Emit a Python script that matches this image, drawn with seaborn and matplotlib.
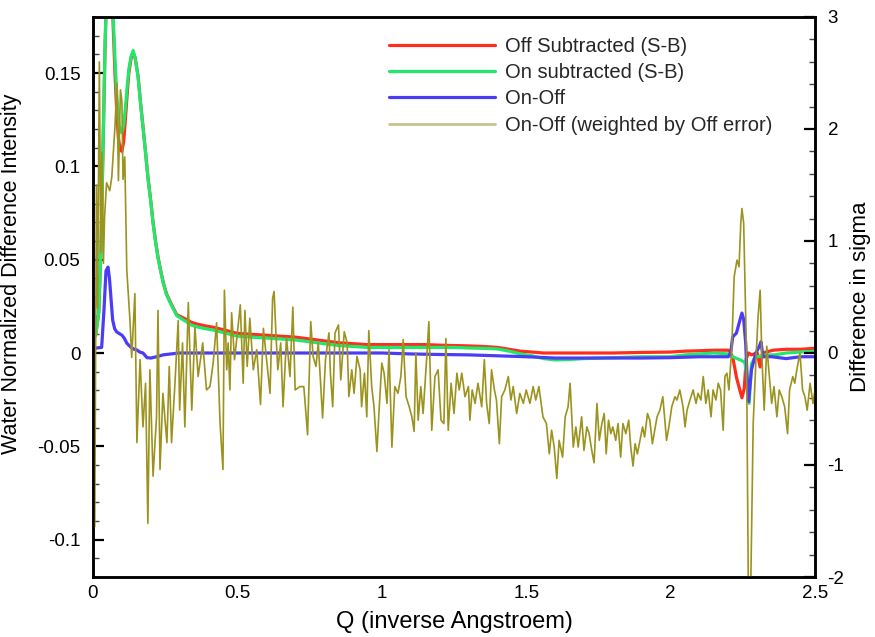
import matplotlib
matplotlib.use("Agg")
import matplotlib.pyplot as plt
from matplotlib.ticker import MultipleLocator
from matplotlib.lines import Line2D
import seaborn as sns
import pandas as pd

# ---------------- data ----------------
q_red = [0.0, 0.01, 0.02, 0.028, 0.036, 0.042, 0.05, 0.06, 0.07, 0.076, 0.082, 0.088, 0.094, 0.1, 0.106,
         0.112, 0.118, 0.124, 0.132, 0.139, 0.146, 0.156, 0.165, 0.173, 0.182, 0.19, 0.2, 0.208, 0.217,
         0.225, 0.234, 0.243, 0.255, 0.267, 0.28, 0.29, 0.31, 0.325, 0.34, 0.36, 0.39, 0.416, 0.45, 0.5,
         0.55, 0.6, 0.65, 0.7, 0.75, 0.8, 0.85, 0.9, 0.95, 1.0, 1.05, 1.1, 1.15, 1.2, 1.25, 1.3, 1.35,
         1.4, 1.44, 1.48, 1.52, 1.56, 1.6, 1.7, 1.8, 1.9, 2.0, 2.05, 2.1, 2.15, 2.2, 2.215, 2.228, 2.24,
         2.247, 2.255, 2.262, 2.27, 2.28, 2.3, 2.31, 2.318, 2.355, 2.4, 2.45, 2.5]
off_sub = [0.007, 0.010, 0.022, 0.059, 0.12, 0.166, 0.21, 0.22, 0.175, 0.15, 0.13, 0.115, 0.109, 0.108,
           0.113, 0.125, 0.138, 0.150, 0.158, 0.161, 0.158, 0.1485, 0.1335, 0.1215, 0.1075, 0.0945,
           0.0815, 0.070, 0.0595, 0.0515, 0.0445, 0.038, 0.0315, 0.0275, 0.0235, 0.0205, 0.019, 0.0178,
           0.0165, 0.0155, 0.0145, 0.0138, 0.0125, 0.0105, 0.010, 0.0095, 0.009, 0.0085, 0.0075, 0.0065,
           0.0055, 0.005, 0.0045, 0.0045, 0.0045, 0.0045, 0.0045, 0.0042, 0.004, 0.0038, 0.0035, 0.003,
           0.002, 0.001, 0.0005, 0.0, 0.0, 0.0, 0.0, 0.0003, 0.0005, 0.001, 0.0012, 0.0015, 0.0015,
           -0.002, -0.013, -0.020, -0.024, -0.019, -0.003, 0.0, -0.001, 0.0, -0.0075, 0.0, 0.0015,
           0.002, 0.002, 0.0025]

q_green = [0.0, 0.01, 0.02, 0.028, 0.036, 0.042, 0.05, 0.06, 0.07, 0.076, 0.082, 0.088, 0.094, 0.1, 0.106,
           0.112, 0.118, 0.124, 0.132, 0.139, 0.146, 0.156, 0.165, 0.173, 0.182, 0.19, 0.2, 0.208, 0.217,
           0.225, 0.234, 0.243, 0.255, 0.267, 0.28, 0.29, 0.31, 0.325, 0.34, 0.36, 0.39, 0.416, 0.45, 0.5,
           0.55, 0.6, 0.65, 0.7, 0.75, 0.8, 0.85, 0.9, 0.95, 1.0, 1.05, 1.1, 1.15, 1.2, 1.25, 1.3, 1.35,
           1.4, 1.44, 1.48, 1.52, 1.56, 1.6, 1.65, 1.7, 1.8, 1.9, 2.0, 2.05, 2.1, 2.15, 2.2, 2.215, 2.23,
           2.245, 2.257, 2.265, 2.272, 2.28, 2.29, 2.3, 2.33, 2.36, 2.4, 2.45, 2.5]
on_sub = [0.007, 0.010, 0.022, 0.059, 0.12, 0.166, 0.21, 0.23, 0.18, 0.158, 0.139, 0.125, 0.119, 0.118,
          0.122, 0.131, 0.142, 0.152, 0.159, 0.162, 0.158, 0.148, 0.133, 0.121, 0.107, 0.094, 0.081,
          0.0695, 0.059, 0.051, 0.044, 0.0375, 0.031, 0.027, 0.023, 0.020, 0.018, 0.0166, 0.015, 0.014,
          0.013, 0.0123, 0.011, 0.009, 0.0085, 0.008, 0.0075, 0.007, 0.006, 0.005, 0.004, 0.0035, 0.003,
          0.003, 0.003, 0.003, 0.003, 0.003, 0.003, 0.0027, 0.0025, 0.0022, 0.001, -0.0005, -0.0015,
          -0.003, -0.0037, -0.0035, -0.003, -0.0025, -0.002, -0.002, -0.001, -0.0005, 0.0, -0.0005,
          -0.002, -0.003, -0.004, -0.005, -0.013, -0.027, -0.006, -0.003, -0.002, -0.001, -0.001, 0.0,
          0.0005, 0.001]

q_blue = [0.0, 0.013, 0.03, 0.038, 0.045, 0.052, 0.057, 0.061, 0.068, 0.075, 0.082, 0.09, 0.1, 0.108,
          0.117, 0.125, 0.134, 0.143, 0.152, 0.162, 0.173, 0.187, 0.2, 0.22, 0.243, 0.27, 0.3, 0.35, 0.4,
          0.5, 0.6, 0.7, 0.8, 0.9, 1.0, 1.1, 1.2, 1.3, 1.4, 1.5, 1.6, 1.7, 1.8, 1.9, 2.0, 2.1, 2.2, 2.208,
          2.215, 2.228, 2.24, 2.247, 2.253, 2.26, 2.265, 2.27, 2.28, 2.295, 2.307, 2.313, 2.32, 2.35, 2.4,
          2.45, 2.5]
on_off = [0.002, 0.0027, 0.003, 0.023, 0.044, 0.046, 0.040, 0.032, 0.0177, 0.013, 0.0113, 0.0105, 0.0096,
          0.008, 0.0053, 0.004, 0.0027, 0.002, 0.0016, 0.0005, 0.0, -0.0025, -0.0027, -0.002, -0.001,
          -0.0005, 0.0, 0.0, 0.0, 0.0, 0.0, 0.0, 0.0, 0.0, 0.0, -0.0005, -0.0008, -0.001, -0.0015, -0.002,
          -0.0027, -0.0027, -0.0027, -0.0027, -0.0025, -0.002, -0.002, 0.0, 0.0086, 0.0107, 0.0176,
          0.0214, 0.018, 0.0053, -0.0133, -0.026, -0.009, 0.0, 0.0035, 0.006, -0.002, -0.002, -0.003,
          -0.002, -0.002]

q_olive = [0.0, 0.006, 0.012, 0.016, 0.022, 0.027, 0.031, 0.036, 0.04, 0.047, 0.058, 0.065, 0.076, 0.083,
           0.088, 0.095, 0.1, 0.104, 0.11, 0.117, 0.128, 0.134, 0.145, 0.152, 0.163, 0.173, 0.182, 0.19,
           0.197, 0.208, 0.22, 0.225, 0.232, 0.242, 0.256, 0.264, 0.272, 0.284, 0.295, 0.3, 0.31, 0.318,
           0.33, 0.342, 0.353, 0.364, 0.38, 0.393, 0.405, 0.416, 0.428, 0.44, 0.45, 0.455, 0.463, 0.468,
           0.474, 0.48, 0.49, 0.5, 0.51, 0.52, 0.526, 0.534, 0.543, 0.555, 0.567, 0.58, 0.59, 0.6, 0.613,
           0.622, 0.627, 0.634, 0.64, 0.65, 0.658, 0.67, 0.682, 0.692, 0.7, 0.716, 0.73, 0.743, 0.754,
           0.762, 0.772, 0.78, 0.795, 0.805, 0.817, 0.822, 0.83, 0.838, 0.85, 0.858, 0.87, 0.88, 0.886,
           0.896, 0.904, 0.914, 0.925, 0.93, 0.94, 0.948, 0.955, 0.965, 0.973, 0.983, 0.99, 1.0, 1.008,
           1.018, 1.025, 1.035, 1.045, 1.056, 1.066, 1.074, 1.084, 1.095, 1.104, 1.112, 1.118, 1.126,
           1.135, 1.143, 1.155, 1.163, 1.173, 1.184, 1.195, 1.205, 1.215, 1.222, 1.23, 1.24, 1.25, 1.26,
           1.268, 1.277, 1.288, 1.3, 1.305, 1.313, 1.323, 1.333, 1.346, 1.355, 1.363, 1.372, 1.38, 1.39,
           1.397, 1.407, 1.415, 1.426, 1.438, 1.447, 1.455, 1.467, 1.478, 1.49, 1.5, 1.513, 1.524, 1.533,
           1.544, 1.558, 1.57, 1.58, 1.588, 1.597, 1.606, 1.614, 1.626, 1.635, 1.645, 1.652, 1.663, 1.672,
           1.68, 1.692, 1.7, 1.71, 1.718, 1.727, 1.735, 1.745, 1.753, 1.762, 1.77, 1.777, 1.785, 1.793,
           1.8, 1.81, 1.818, 1.827, 1.835, 1.845, 1.855, 1.862, 1.87, 1.877, 1.885, 1.894, 1.903, 1.91,
           1.92, 1.928, 1.937, 1.945, 1.953, 1.963, 1.973, 1.986, 1.994, 2.004, 2.015, 2.022, 2.032,
           2.043, 2.05, 2.057, 2.067, 2.078, 2.088, 2.095, 2.105, 2.113, 2.122, 2.13, 2.14, 2.147, 2.157,
           2.165, 2.173, 2.182, 2.188, 2.195, 2.202, 2.212, 2.22, 2.23, 2.237, 2.243, 2.247, 2.253, 2.263,
           2.27, 2.278, 2.286, 2.295, 2.303, 2.31, 2.316, 2.324, 2.333, 2.342, 2.35, 2.358, 2.368, 2.376,
           2.385, 2.395, 2.405, 2.412, 2.423, 2.43, 2.437, 2.448, 2.457, 2.465, 2.473, 2.483, 2.493, 2.5]
weighted = [-0.2, -1.55, 1.5, 0.4, 2.6, 0.9, 1.79, 0.8, 1.21, 1.52, 1.45, 1.57, 2.02, 2.41, 1.54, 2.35,
            2.25, 1.55, 1.75, 0.74, 0.29, -0.04, 0.53, -0.8, -0.06, -0.66, -0.27, -1.52, -0.15, -1.1,
            -0.57, 0.38, -1.04, -0.36, -0.8, -0.12, -0.8, -0.26, 0.29, -0.51, 0.09, -0.66, 0.45, -0.51,
            0.23, -0.21, 0.09, -0.33, -0.3, -0.09, 0.27, -0.63, -1.04, 0.56, -0.15, 0.09, -0.33, 0.36,
            -0.06, 0.18, 0.43, -0.27, 0.38, -0.12, 0.31, -0.15, 0.03, -0.46, 0.22, -0.03, -0.36, 0.49,
            0.55, 0.14, -0.15, 0.09, -0.48, 0.14, -0.21, 0.41, -0.33, -0.3, -0.3, -0.73, 0.28, -0.03,
            -0.12, 0.09, -0.58, -0.06, 0.18, -0.18, -0.48, 0.18, 0.25, -0.24, 0.19, 0.09, -0.39, -0.15,
            -0.36, -0.03, -0.15, -0.48, -0.18, -0.57, 0.2, -0.3, -0.48, -0.88, -0.54, -0.09, -0.18,
            -0.45, 0.03, -0.84, -0.3, -0.36, -0.21, 0.12, -0.39, -0.48, -0.57, -0.7, 0.0, -0.6, -0.3,
            -0.54, -0.06, 0.28, -0.69, -0.21, -0.15, -0.6, -0.63, 0.13, -0.69, -0.27, -0.54, -0.18,
            -0.33, -0.18, -0.39, -0.3, -0.6, -0.33, -0.45, -0.27, -0.48, -0.06, -0.45, -0.63, -0.15,
            -0.33, -0.42, -0.81, -0.39, -0.33, -0.21, -0.42, -0.3, -0.54, -0.36, -0.45, -0.33, -0.45,
            -0.3, -0.42, -0.3, -0.57, -0.63, -0.9, -0.69, -0.84, -1.12, -0.78, -0.93, -0.57, -0.48,
            -0.27, -0.84, -0.66, -0.84, -0.57, -0.87, -0.66, -0.72, -0.87, -0.98, -0.45, -0.78, -0.63,
            -0.54, -0.9, -0.6, -0.72, -0.66, -0.78, -0.63, -0.93, -0.63, -0.72, -0.6, -0.84, -1.01,
            -0.81, -0.9, -0.78, -0.66, -0.75, -0.54, -0.6, -0.81, -0.69, -0.57, -0.51, -0.39, -0.78,
            -0.66, -0.48, -0.39, -0.42, -0.33, -0.48, -0.66, -0.51, -0.42, -0.33, -0.45, -0.36, -0.42,
            -0.21, -0.45, -0.33, -0.57, -0.33, -0.42, -0.27, -0.33, -0.69, -0.21, -0.18, -0.33, 0.06,
            0.68, 0.83, 0.77, 1.16, 1.29, 1.16, -0.03, -2.4, -2.0, -0.63, -0.09, 0.33, 0.56, -0.03,
            -0.51, 0.06, -0.21, -0.45, -0.3, -0.57, -0.33, -0.39, -0.48, -0.72, -0.33, -0.21, -0.27,
            -0.15, 0.0, -0.33, -0.39, -0.51, -0.27, -0.45, -0.33]

labels = ["Off Subtracted (S-B)", "On subtracted (S-B)", "On-Off", "On-Off (weighted by Off error)"]
colors = ["#ff2d1e", "#20e86c", "#4b3cf5", "#9c931e"]
x_ticks = [0, 0.5, 1, 1.5, 2, 2.5]
x_ticklabels = ["0", "0.5", "1", "1.5", "2", "2.5"]
y_left_ticks = [-0.1, -0.05, 0, 0.05, 0.1, 0.15]
y_left_ticklabels = ["-0.1", "-0.05", "0", "0.05", "0.1", "0.15"]
y_right_ticks = [-2, -1, 0, 1, 2, 3]
y_right_ticklabels = ["-2", "-1", "0", "1", "2", "3"]

# ---------------- plotting ----------------
sns.set_theme(style="white")
plt.rcParams["font.family"] = ["Liberation Sans", "DejaVu Sans"]

fig = plt.figure(figsize=(8.75, 6.37), dpi=100)
ax = fig.add_axes([93 / 875, 60 / 637, 722 / 875, 560 / 637])
ax2 = ax.twinx()

df_red = pd.DataFrame({"Q": q_red, "v": off_sub})
df_green = pd.DataFrame({"Q": q_green, "v": on_sub})
df_blue = pd.DataFrame({"Q": q_blue, "v": on_off})
df_olive = pd.DataFrame({"Q": q_olive, "v": weighted})

lw = 2.3
sns.lineplot(data=df_red, x="Q", y="v", ax=ax, color=colors[0], lw=lw, estimator=None, sort=False)
sns.lineplot(data=df_green, x="Q", y="v", ax=ax, color=colors[1], lw=lw, estimator=None, sort=False)
sns.lineplot(data=df_blue, x="Q", y="v", ax=ax, color=colors[2], lw=lw, estimator=None, sort=False)
sns.lineplot(data=df_olive, x="Q", y="v", ax=ax2, color=colors[3], lw=1.2, estimator=None, sort=False)

ax.set_xlim(0, 2.5)
ax.set_ylim(-0.12, 0.18)
ax2.set_ylim(-2, 3)

ax.set_xticks(x_ticks)
ax.set_xticklabels(x_ticklabels)
ax.set_yticks(y_left_ticks)
ax.set_yticklabels(y_left_ticklabels)
ax2.set_yticks(y_right_ticks)
ax2.set_yticklabels(y_right_ticklabels)
ax.xaxis.set_minor_locator(MultipleLocator(0.1))
ax.yaxis.set_minor_locator(MultipleLocator(0.01))
ax2.yaxis.set_minor_locator(MultipleLocator(0.2))

for a in (ax, ax2):
    for s in a.spines.values():
        s.set_color("black")
        s.set_linewidth(1.8)

ax.tick_params(axis="both", which="major", direction="in", length=8, width=1.6, color="black",
               labelsize=13.5, labelcolor="black", pad=9)
ax.tick_params(axis="both", which="minor", direction="in", length=4, width=1.0, color="#444444")
ax.tick_params(axis="x", top=False, which="both", pad=6)
ax.tick_params(axis="y", right=False, which="both")
ax2.tick_params(axis="y", which="major", direction="in", length=8, width=1.6, color="black",
                labelsize=13.5, labelcolor="black", pad=9, left=False, right=True)
ax2.tick_params(axis="y", which="minor", direction="in", length=4, width=1.0, color="#444444",
                left=False, right=True)

ax.set_xlabel("Q (inverse Angstroem)", fontsize=17, color="black", labelpad=6)
ax.set_ylabel("Water Normalized Difference Intensity", fontsize=15.5, color="black")
ax.yaxis.set_label_coords(-0.098, 0.542)
ax2.set_ylabel("Difference in sigma", fontsize=16, color="black", labelpad=4)

handles = [Line2D([], [], color=c, lw=(lw if i < 3 else 2.0)) for i, c in enumerate(colors)]
handles[3].set_color("#c9c28f")
leg = ax2.legend(handles, labels, loc="upper left", bbox_to_anchor=(0.396, 0.983), frameon=False,
                 fontsize=14.5, handlelength=5.25, handletextpad=0.5, labelspacing=0.365,
                 borderaxespad=0.1)

fig.savefig("out.png", dpi=100)
